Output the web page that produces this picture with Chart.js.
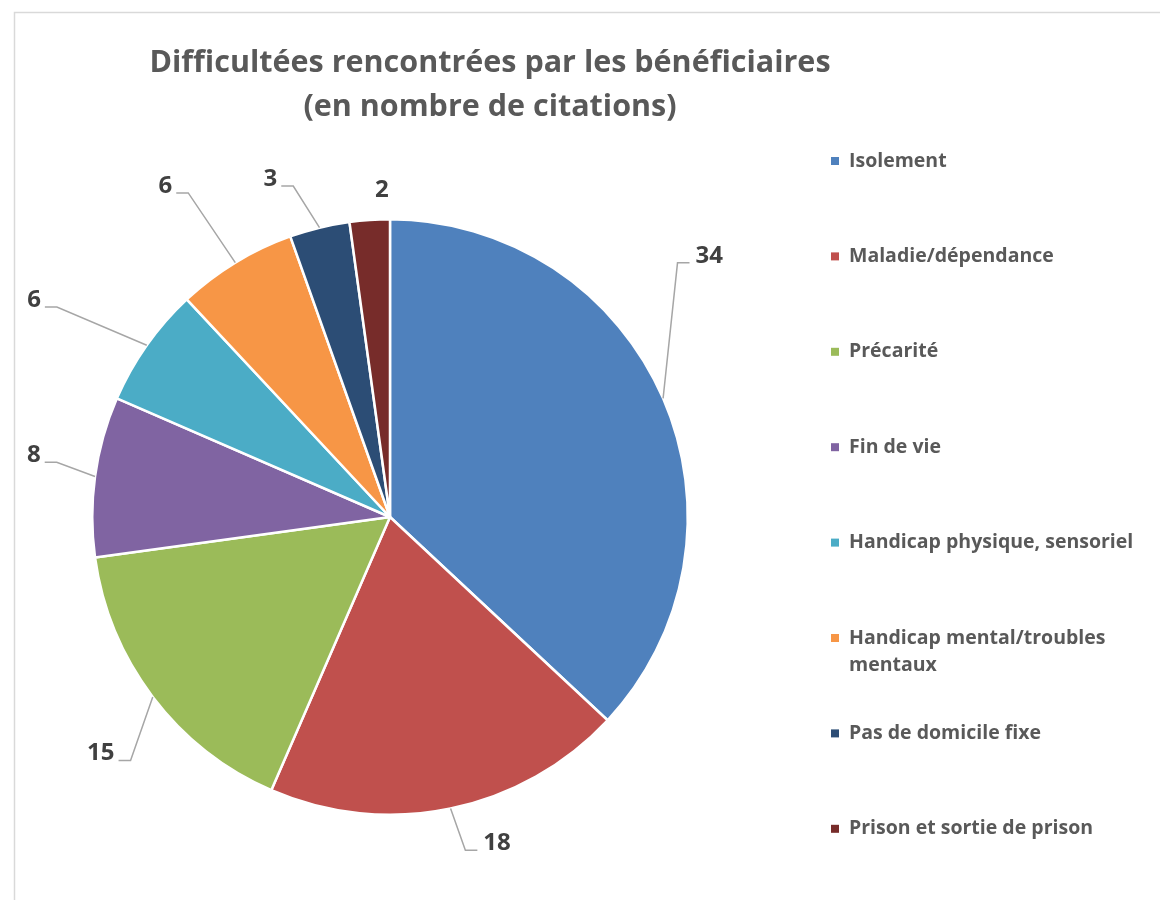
<!DOCTYPE html>
<html>
<head>
<meta charset="utf-8">
<script src="https://cdn.jsdelivr.net/npm/chart.js@4.4.0/dist/chart.umd.min.js"></script>
<style>
  html, body { margin: 0; padding: 0; background: #fff; }
  #wrap { width: 1160px; height: 900px; position: relative; }
</style>
</head>
<body>
<div id="wrap"><canvas id="pieChart"></canvas></div>
<script>
const categories = ["Isolement", "Maladie/dépendance", "Précarité", "Fin de vie", "Handicap physique, sensoriel", "Handicap mental/troubles mentaux", "Pas de domicile fixe", "Prison et sortie de prison"];
const citations = [34, 18, 15, 8, 6, 6, 3, 2];
const sliceColors = ["#4F81BD", "#C0504D", "#9BBB59", "#8064A2", "#4BACC6", "#F79646", "#2C4D75", "#772C2A"];
const titleLines = ["Difficultées rencontrées par les bénéficiaires", "(en nombre de citations)"];

// leader lines, like Excel's "best fit" labels: extra radius and angle shift (deg)
const leaderLift = [86, 44, 58, 40, 96, 84, 47, 29];
const leaderTurn = [-18, -1, -6, 1.5, -3, -0.6, -2.6, 2.5];

const fontStack = "'Open Sans', Lato, sans-serif";

const pieExtras = {
  id: "pieExtras",
  beforeDraw(chart) {
    const ctx = chart.ctx;
    ctx.save();
    ctx.strokeStyle = "#d9d9d9";
    ctx.lineWidth = 1.5;
    ctx.strokeRect(14.5, 12.5, 1200, 950);
    ctx.restore();
  },
  afterDraw(chart) {
    const ctx = chart.ctx;
    const meta = chart.getDatasetMeta(0);
    ctx.save();

    // title
    ctx.fillStyle = "#595959";
    ctx.font = "bold 30.5px " + fontStack;
    ctx.textAlign = "center";
    ctx.textBaseline = "middle";
    ctx.fillText(titleLines[0], 490, 63);
    ctx.fillText(titleLines[1], 490, 107);

    // data labels
    ctx.font = "bold 24px " + fontStack;
    meta.data.forEach((arc, i) => {
      const p = arc.getProps(["x", "y", "startAngle", "endAngle", "outerRadius"], true);
      const mid = (p.startAngle + p.endAngle) / 2;
      const r = p.outerRadius;
      const a = mid + leaderTurn[i] * Math.PI / 180;
      const ex = p.x + Math.cos(a) * (r + leaderLift[i]);
      const ey = p.y + Math.sin(a) * (r + leaderLift[i]);
      const txt = String(citations[i]);
      ctx.fillStyle = "#404040";
      if (leaderLift[i] < 30) {
        ctx.textAlign = "center";
        ctx.fillText(txt, ex, ey);
        return;
      }
      const sx = p.x + Math.cos(mid) * r;
      const sy = p.y + Math.sin(mid) * r;
      const right = ex >= p.x;
      const hx = right ? ex + 12 : ex - 12;
      ctx.strokeStyle = "#a6a6a6";
      ctx.lineWidth = 1.5;
      ctx.beginPath();
      ctx.moveTo(sx, sy);
      ctx.lineTo(ex, ey);
      ctx.lineTo(hx, ey);
      ctx.stroke();
      ctx.textAlign = right ? "left" : "right";
      ctx.fillText(txt, right ? hx + 6 : hx - 4, ey - 7);
    });

    // legend
    ctx.font = "bold 19.5px " + fontStack;
    ctx.textAlign = "left";
    categories.forEach((name, i) => {
      const y = 161 + i * 95.4;
      ctx.fillStyle = sliceColors[i];
      ctx.fillRect(831, y - 4, 8, 8);
      ctx.fillStyle = "#595959";
      const words = name.split(" ");
      let line = "", lines = [];
      words.forEach(w => {
        const test = line ? line + " " + w : w;
        if (ctx.measureText(test).width > 300 && line) { lines.push(line); line = w; }
        else line = test;
      });
      lines.push(line);
      lines.forEach((l, k) => ctx.fillText(l, 849, y + k * 27));
    });
    ctx.restore();
  }
};

new Chart(document.getElementById("pieChart"), {
  type: "pie",
  data: {
    labels: categories,
    datasets: [{
      data: citations,
      backgroundColor: sliceColors,
      borderColor: "#ffffff",
      borderWidth: 2.5
    }]
  },
  options: {
    responsive: true,
    maintainAspectRatio: false,
    animation: false,
    layout: { padding: { left: 91, right: 471, top: 218, bottom: 84 } },
    plugins: {
      legend: { display: false },
      title: { display: false },
      tooltip: { enabled: false }
    }
  },
  plugins: [pieExtras]
});
</script>
</body>
</html>
